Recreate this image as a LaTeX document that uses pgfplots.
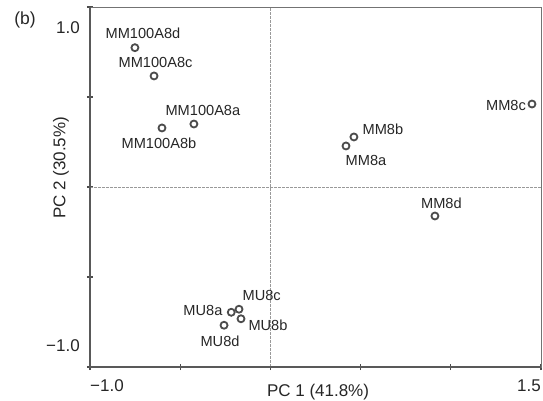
\documentclass[border=0pt]{standalone}
\usepackage{pgfplots}
\usepackage{pgfplotstable}
\pgfplotsset{compat=1.18}
\usepackage{fontspec}
\setmainfont{Liberation Sans}

\pgfplotstableread{
x y dx dy label
-0.751 0.774 8 14 MM100A8d
-0.645 0.617 1.5 13 MM100A8c
-0.424 0.350 9 14 MM100A8a
-0.601 0.328 -3 -15 MM100A8b
1.450 0.461 -26 -1 MM8c
0.463 0.278 29 8 MM8b
0.419 0.228 20 -15 MM8a
0.912 -0.161 6.5 13 MM8d
-0.174 -0.679 22.7 13.3 MU8c
-0.217 -0.696 -28.3 2.3 MU8a
-0.163 -0.732 27 -6.3 MU8b
-0.257 -0.768 -4 -15.7 MU8d
}\pcadata

\begin{document}
\begin{tikzpicture}
\begin{axis}[
  scale only axis, width=451pt, height=360pt,
  xmin=-1, xmax=1.5, ymin=-1, ymax=1,
  xtick={-1,-0.5,0,0.5,1,1.5}, ytick={-1,-0.5,0,0.5,1},
  xticklabels={}, yticklabels={},
  xtick pos=bottom, ytick pos=left,
  tick align=center, major tick length=6pt,
  tick style={black!70, line width=1.2pt},
  axis line style={black!55, line width=1pt},
  clip=false,
]
\draw[black!40, line width=0.7pt, dash pattern=on 3pt off 1pt] (axis cs:0,-1) -- (axis cs:0,1);
\draw[black!40, line width=0.7pt, dash pattern=on 3pt off 1pt] (axis cs:-1,0) -- (axis cs:1.5,0);
\draw[black!65, line width=1.8pt] (axis cs:-1,1) -- (axis cs:-1,-1) -- (axis cs:1.5,-1);
\addplot[only marks, mark=o, mark size=3.5pt,
  mark options={draw=black!70, line width=1.8pt},
  nodes near coords, point meta=explicit symbolic,
  visualization depends on={\thisrow{dx} \as \dx},
  visualization depends on={\thisrow{dy} \as \dy},
  nodes near coords style={anchor=center, inner sep=0pt, xshift=\dx pt, yshift=\dy pt,
    font=\fontsize{14.6}{16}\selectfont, text=black!85}]
  table[x=x, y=y, meta=label] {\pcadata};

\node[anchor=east, inner sep=0pt, xshift=-10pt, font=\fontsize{17}{19}\selectfont, text=black!85] at (axis cs:-1,0.883) {1.0};
\node[anchor=east, inner sep=0pt, xshift=-10pt, font=\fontsize{17}{19}\selectfont, text=black!85] at (axis cs:-1,-0.883) {−1.0};
\node[anchor=west, inner sep=0pt, yshift=-19pt, font=\fontsize{17}{19}\selectfont, text=black!85] at (axis cs:-1,-1) {−1.0};
\node[anchor=east, inner sep=0pt, yshift=-19pt, font=\fontsize{17}{19}\selectfont, text=black!85] at (axis cs:1.5,-1) {1.5};
\node[anchor=center, inner sep=0pt, yshift=-25pt, font=\fontsize{17}{19}\selectfont, text=black!85] at (axis cs:0.264,-1) {PC 1 (41.8\%)};
\node[anchor=center, inner sep=0pt, rotate=90, font=\fontsize{17}{19}\selectfont, text=black!85] at ([xshift=-29pt]axis cs:-1,0.106) {PC 2 (30.5\%)};
\node[anchor=center, inner sep=0pt, font=\fontsize{17.5}{19}\selectfont, text=black!85] at ([xshift=-65pt]axis cs:-1,0.928) {(b)};
\end{axis}
\pgfresetboundingbox
\useasboundingbox (-90pt,-33pt) rectangle (453pt,367pt);
\end{tikzpicture}
\end{document}
